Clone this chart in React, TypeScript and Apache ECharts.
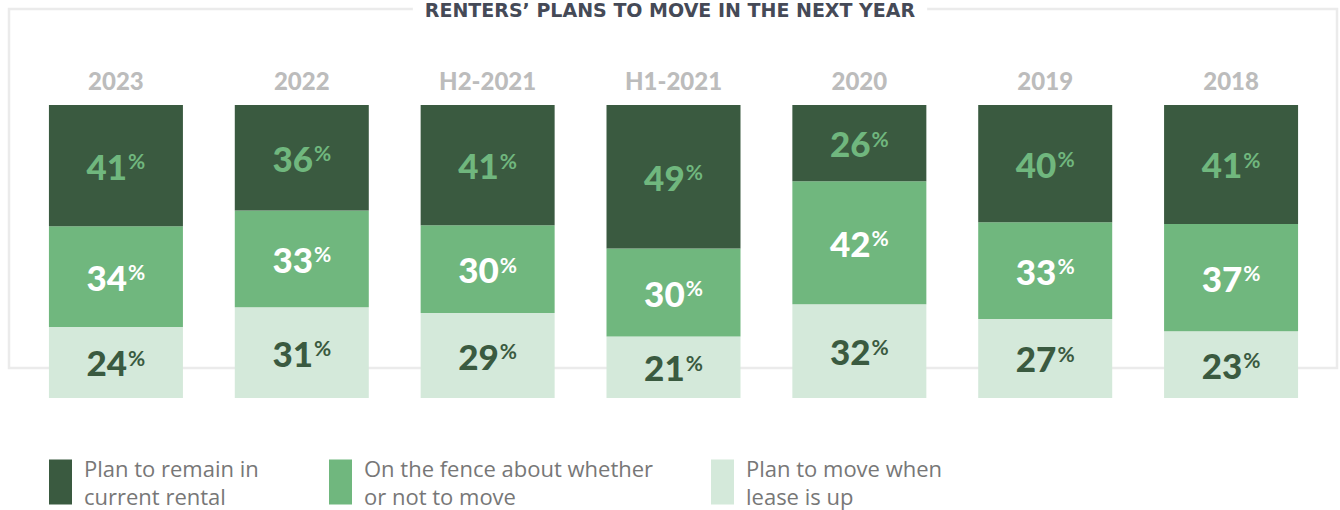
import React, { useEffect, useRef } from "react";
import * as echarts from "echarts";

const categories = ["2023", "2022", "H2-2021", "H1-2021", "2020", "2019", "2018"];
const remainInRental = [41, 36, 41, 49, 26, 40, 41];
const onTheFence = [34, 33, 30, 30, 42, 33, 37];
const moveWhenLeaseUp = [24, 31, 29, 21, 32, 27, 23];

const seriesNames = [
  "Plan to remain in current rental",
  "On the fence about whether or not to move",
  "Plan to move when lease is up",
];
const legendTexts = [
  "Plan to remain in\ncurrent rental",
  "On the fence about whether\nor not to move",
  "Plan to move when\nlease is up",
];
const titleText = "RENTERS\u2019 PLANS TO MOVE IN THE NEXT YEAR";

const DARK = "#3a5a40";
const MID = "#70b77e";
const LIGHT = "#d4e9da";
const FONT = "Lato, 'Open Sans', sans-serif";

export default function App() {
  const ref = useRef<HTMLDivElement>(null);
  useEffect(() => {
    if (!ref.current) return;
    const chart = echarts.init(ref.current, undefined, { renderer: "svg" });
    const totals = categories.map((_, i) => remainInRental[i] + onTheFence[i] + moveWhenLeaseUp[i]);
    const norm = (arr: number[]) => arr.map((v, i) => (v / totals[i]) * 100);

    const mkSeries = (name: string, raw: number[], color: string, labelColor: string) => ({
      name,
      type: "bar",
      stack: "total",
      barWidth: 134,
      data: norm(raw),
      itemStyle: { color },
      label: {
        show: true,
        position: "inside",
        formatter: (p: any) => `{n|${raw[p.dataIndex]}}{p|%}`,
        rich: {
          n: { fontSize: 35, fontWeight: 900, color: labelColor, fontFamily: FONT },
          p: { fontSize: 21, fontWeight: 700, color: labelColor, fontFamily: FONT, padding: [0, 0, 10, 1] },
        },
      },
    });

    const legendLefts = [49, 329, 711];
    const colors = [DARK, MID, LIGHT];

    chart.setOption({
      animation: false,
      backgroundColor: "#fff",
      title: {
        text: titleText,
        left: "center",
        top: 0,
        padding: [0, 12],
        backgroundColor: "#fff",
        textStyle: { fontSize: 19, fontWeight: "bold", color: "#454a57", fontFamily: "'DejaVu Sans', sans-serif" },
      },
      graphic: [
        {
          type: "rect",
          z: -10,
          shape: { x: 9, y: 9, width: 1328, height: 359 },
          style: { fill: "none", stroke: "#ebebeb", lineWidth: 2.5 },
        },
      ],
      legend: seriesNames.map((name, i) => ({
        data: [{ name, icon: "rect" }],
        left: legendLefts[i],
        top: 454,
        padding: 0,
        itemWidth: 23,
        itemHeight: 45,
        selectedMode: false,
        formatter: () => legendTexts[i],
        textStyle: {
          fontSize: 22,
          lineHeight: 28,
          color: "#777",
          fontFamily: "'Open Sans', sans-serif",
          padding: [0, 0, 0, 7],
        },
        itemStyle: { color: colors[i] },
      })),
      grid: { left: 23, right: 16, top: 105, bottom: 112 },
      xAxis: {
        type: "category",
        position: "top",
        data: categories,
        axisLine: { show: false },
        axisTick: { show: false },
        axisLabel: {
          color: "#bcbcbc",
          fontSize: 24,
          fontWeight: 900,
          fontFamily: FONT,
          margin: 13,
        },
      },
      yAxis: { type: "value", min: 0, max: 100, show: false, splitLine: { show: false } },
      series: [
        mkSeries(seriesNames[2], moveWhenLeaseUp, LIGHT, DARK),
        mkSeries(seriesNames[1], onTheFence, MID, "#ffffff"),
        mkSeries(seriesNames[0], remainInRental, DARK, MID),
      ],
    });
    return () => chart.dispose();
  }, []);
  return (
    <div
      ref={ref}
      style={{ position: "fixed", left: 0, top: 0, width: 1340, height: 510 }}
    />
  );
}
